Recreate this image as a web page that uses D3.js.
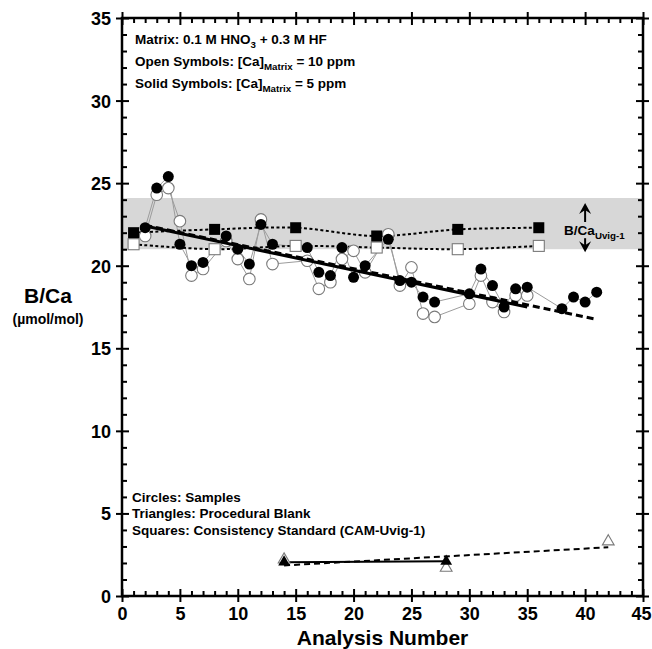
<!DOCTYPE html>
<html><head><meta charset="utf-8">
<script src="https://cdn.jsdelivr.net/npm/d3@7"></script>
<style>
body{margin:0;background:#fff}
text{font-family:"Liberation Sans",Arial,sans-serif;font-weight:bold;fill:#000}
</style>
</head><body>
<svg id="chart" width="652" height="649"></svg>
<script>
// ---- data ----
const openX = [2,3,4,5,6,7,9,10,11,12,13,16,17,18,19,20,21,23,24,25,26,27,30,31,32,33,34,35];
const openY = [21.8,24.3,24.7,22.7,19.4,19.8,21.5,20.4,19.2,22.8,20.1,20.3,18.6,19.0,20.4,20.9,19.6,21.9,18.8,19.9,17.1,16.9,17.7,19.4,17.8,17.2,18.2,18.2];
const solidX = [2,3,4,5,6,7,9,10,11,12,13,16,17,18,19,20,21,23,24,25,26,27,30,31,32,33,34,35,38,39,40,41];
const solidY = [22.3,24.7,25.4,21.3,20.0,20.2,21.8,21.0,20.1,22.5,21.3,21.1,19.6,19.4,21.1,19.3,20.0,21.6,19.1,19.0,18.1,17.8,18.3,19.8,18.8,17.5,18.6,18.7,17.4,18.1,17.8,18.4];
const squareX = [1,8,15,22,29,36];
const squareSolidY = [22.0,22.2,22.3,21.8,22.2,22.3];
const squareOpenY = [21.3,21.0,21.2,21.1,21.0,21.2];
const triOpenX = [14,28,42];
const triOpenY = [2.2,1.7,3.3];
const triSolidX = [14,28];
const triSolidY = [2.05,2.1];
const trendOpenX = [2,35],  trendOpenY = [22.4,17.5];
const trendSolidX = [2,41], trendSolidY = [22.45,16.75];
const trendBlankX = [14,42], trendBlankY = [1.85,2.95];
const bandRange = [21.0,24.1];
const xTickValues = [0,5,10,15,20,25,30,35,40,45];
const yTickValues = [0,5,10,15,20,25,30,35];
const arrowX = 40;

// ---- layout ----
const svg = d3.select("#chart");
const L=122, R=643, T=18, B=596;
const x = d3.scaleLinear().domain([0,45]).range([L,R]);
const y = d3.scaleLinear().domain([0,35]).range([B,T]);
const pts = (xs,ys)=>xs.map((v,i)=>({x:v,y:ys[i]}));

// band
svg.append("rect").attr("x",L).attr("width",R-L)
  .attr("y",y(bandRange[1])).attr("height",y(bandRange[0])-y(bandRange[1]))
  .attr("fill","#d7d7d7");

const line = d3.line().x(d=>x(d.x)).y(d=>y(d.y));
function runs(arr){ // split where analysis numbers jump by more than 3
  const out=[[]];
  arr.forEach((d,i)=>{ if(i>0 && d.x-arr[i-1].x>3) out.push([]); out[out.length-1].push(d);});
  return out;
}
const openPts = pts(openX,openY), solidPts = pts(solidX,solidY);
// grey connectors
[openPts,solidPts].forEach(p=>runs(p).forEach(r=>{
  svg.append("path").attr("d",line(r)).attr("fill","none").attr("stroke","#9c9c9c").attr("stroke-width",1);
}));

// dotted lines through squares
const smooth = d3.line().x(d=>x(d.x)).y(d=>y(d.y)).curve(d3.curveCatmullRom);
[squareSolidY,squareOpenY].forEach(ys=>{
  svg.append("path").attr("d",smooth(pts(squareX,ys))).attr("fill","none")
    .attr("stroke","#000").attr("stroke-width",2).attr("stroke-dasharray","3,2.5");
});

// open circles
svg.append("g").selectAll("circle").data(openPts).join("circle")
  .attr("cx",d=>x(d.x)).attr("cy",d=>y(d.y)).attr("r",5.8)
  .attr("fill","#fff").attr("stroke","#7a7a7a").attr("stroke-width",1.1);

// trend lines
svg.append("path").attr("d",line(pts(trendOpenX,trendOpenY))).attr("fill","none")
  .attr("stroke","#000").attr("stroke-width",3);
svg.append("path").attr("d",line(pts(trendSolidX,trendSolidY))).attr("fill","none")
  .attr("stroke","#000").attr("stroke-width",3).attr("stroke-dasharray","7,4");

// solid circles
svg.append("g").selectAll("circle").data(solidPts).join("circle")
  .attr("cx",d=>x(d.x)).attr("cy",d=>y(d.y)).attr("r",5.5).attr("fill","#000");

// squares
const sq=11;
svg.append("g").selectAll("rect").data(pts(squareX,squareOpenY)).join("rect")
  .attr("x",d=>x(d.x)-sq/2).attr("y",d=>y(d.y)-sq/2).attr("width",sq).attr("height",sq)
  .attr("fill","#fff").attr("stroke","#7a7a7a").attr("stroke-width",1.1);
svg.append("g").selectAll("rect").data(pts(squareX,squareSolidY)).join("rect")
  .attr("x",d=>x(d.x)-sq/2).attr("y",d=>y(d.y)-sq/2).attr("width",sq).attr("height",sq)
  .attr("fill","#000");

// blanks
svg.append("path").attr("d",line(pts(trendBlankX,trendBlankY))).attr("fill","none")
  .attr("stroke","#000").attr("stroke-width",2).attr("stroke-dasharray","6,4");
svg.append("path").attr("d",line(pts(triSolidX,triSolidY))).attr("fill","none")
  .attr("stroke","#000").attr("stroke-width",2);
const tri = d3.symbol().type(d3.symbolTriangle).size(60);
svg.append("g").selectAll("path").data(pts(triOpenX,triOpenY)).join("path")
  .attr("transform",d=>`translate(${x(d.x)},${y(d.y)})`).attr("d",tri)
  .attr("fill","#fff").attr("stroke","#7a7a7a").attr("stroke-width",1.1);
svg.append("g").selectAll("path").data(pts(triSolidX,triSolidY)).join("path")
  .attr("transform",d=>`translate(${x(d.x)},${y(d.y)})`).attr("d",tri).attr("fill","#000");

// ---- axes ----
const minorX = d3.range(0,46,1).filter(v=>v%5);
const minorY = d3.range(0,36,1).filter(v=>v%5);
function ax(gen, scale, vals, size, tx, ty, fmt){
  const g = svg.append("g").attr("transform",`translate(${tx},${ty})`)
    .call(gen(scale).tickValues(vals).tickSize(size).tickFormat(fmt||""));
  g.select(".domain").remove();
  g.selectAll("line").attr("stroke","#000").attr("stroke-width",2);
  return g;
}
// bottom
const gb = ax(d3.axisBottom,x,xTickValues,6,0,B,d3.format("d"));
gb.selectAll("text").attr("font-size",18).attr("y",null).attr("dy",null)
  .attr("transform",d=>`translate(${d===45?-2:0},24)`);
ax(d3.axisTop,x,xTickValues,7,0,B);
ax(d3.axisTop,x,minorX,5,0,B);
// top
ax(d3.axisTop,x,xTickValues,6,0,T);
ax(d3.axisBottom,x,xTickValues,7,0,T);
ax(d3.axisBottom,x,minorX,5,0,T);
// left
const gl = ax(d3.axisLeft,y,yTickValues,6,L,0,d3.format("d"));
gl.selectAll("text").attr("font-size",18).attr("x",-11).attr("dy","0.36em");
ax(d3.axisRight,y,yTickValues,7,L,0);
ax(d3.axisRight,y,minorY,5,L,0);
// right
ax(d3.axisRight,y,yTickValues,6,R,0);
ax(d3.axisLeft,y,yTickValues,7,R,0);
ax(d3.axisLeft,y,minorY,5,R,0);
// frame
svg.append("rect").attr("x",L).attr("y",T).attr("width",R-L).attr("height",B-T)
  .attr("fill","none").attr("stroke","#000").attr("stroke-width",2.5);

// ---- titles ----
svg.append("text").attr("x",(L+R)/2).attr("y",645).attr("text-anchor","middle")
  .attr("font-size",21).text("Analysis Number");
svg.append("text").attr("x",48).attr("y",303).attr("text-anchor","middle")
  .attr("font-size",21).text("B/Ca");
svg.append("text").attr("x",48).attr("y",324).attr("text-anchor","middle")
  .attr("font-size",14).text("(µmol/mol)");

// ---- annotations ----
function rich(xp, yp, parts, size){
  const t = svg.append("text").attr("x",xp).attr("y",yp).attr("font-size",size);
  parts.forEach(p=>{
    const s = t.append("tspan").text(p[0]);
    if(p[1]==="sub") s.attr("font-size",size*0.72).attr("dy",size*0.3);
    if(p[1]==="up") s.attr("dy",-size*0.3);
  });
  return t;
}
rich(135,44,[["Matrix: 0.1 M HNO"],["3","sub"],[" + 0.3 M HF","up"]],13.5);
rich(135,66,[["Open Symbols: [Ca]"],["Matrix","sub"],[" = 10 ppm","up"]],13.5);
rich(135,88,[["Solid Symbols: [Ca]"],["Matrix","sub"],[" = 5 ppm","up"]],13.5);
svg.append("text").attr("x",132).attr("y",502).attr("font-size",13.5).text("Circles: Samples");
svg.append("text").attr("x",132).attr("y",518).attr("font-size",13.5).text("Triangles: Procedural Blank");
svg.append("text").attr("x",132).attr("y",535).attr("font-size",13.5).text("Squares: Consistency Standard (CAM-Uvig-1)");

// band label with arrows
const ax0 = x(arrowX);
rich(ax0-21,235,[["B/Ca"],["Uvig-1","sub"]],13.5);
const upTip = y(bandRange[1])+5, dnTip = y(bandRange[0])+3;
svg.append("line").attr("x1",ax0).attr("x2",ax0).attr("y1",upTip+4).attr("y2",upTip+19).attr("stroke","#000").attr("stroke-width",2);
svg.append("line").attr("x1",ax0).attr("x2",ax0).attr("y1",dnTip-14).attr("y2",dnTip-4).attr("stroke","#000").attr("stroke-width",2);
svg.append("path").attr("d",`M${ax0},${upTip} L${ax0-6},${upTip+11} L${ax0},${upTip+7} L${ax0+6},${upTip+11}Z`).attr("fill","#000");
svg.append("path").attr("d",`M${ax0},${dnTip} L${ax0-6},${dnTip-11} L${ax0},${dnTip-7} L${ax0+6},${dnTip-11}Z`).attr("fill","#000");
</script>
</body></html>
